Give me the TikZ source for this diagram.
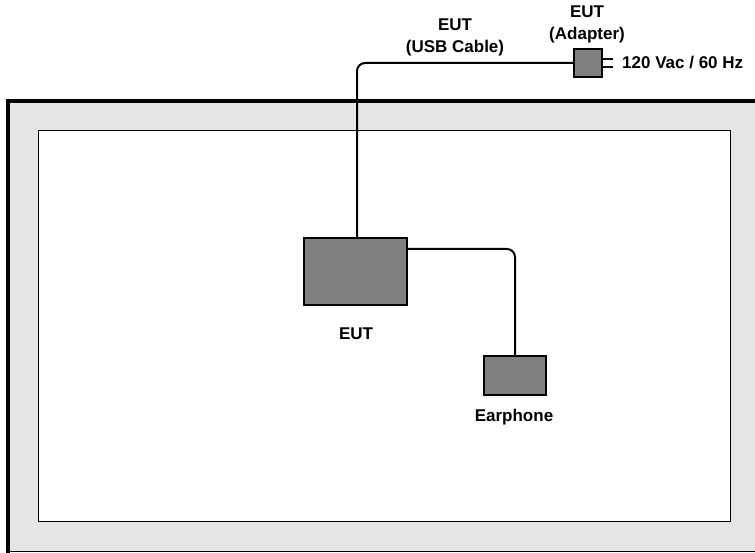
\documentclass[tikz,border=0pt]{standalone}
\usepackage{fontspec}
\setmainfont{Liberation Sans}
\begin{document}
\begin{tikzpicture}[x=1pt,y=-1pt,
  box/.style={draw=black,line width=2pt,fill=gray50,inner sep=0pt},
  cable/.style={draw=black,line width=2pt,rounded corners=8pt},
  lbl/.style={font=\fontsize{17}{22}\selectfont\bfseries,align=center,inner sep=0pt}]
\definecolor{gray50}{HTML}{808080}
\definecolor{roomgray}{HTML}{E5E5E5}
\useasboundingbox (0,0) rectangle (755,553);
% room
\fill[roomgray] (8,101) rectangle (790,551);
\draw[line width=1pt] (8,551) -- (790,551);
\draw[line width=4pt] (8,553) -- (8,101) -- (790,101);
\filldraw[fill=white,draw=black,line width=1pt] (38,131) rectangle (730,521);
% equipment
\node[box,minimum width=103pt,minimum height=67pt] (eut) at (355.5,271.5) {};
\node[box,minimum width=62pt,minimum height=39pt] (ear) at (515,375.5) {};
\node[box,minimum width=28pt,minimum height=28pt] (adp) at (588,63) {};
\coordinate (usbtop) at (357,65);
\draw[cable] (usbtop |- eut.north) |- (adp.west);
\draw[cable] ([yshift=22.5pt]eut.east) -| (ear.north);
\draw[line width=2pt] ([yshift=-4pt]adp.east) -- ++(10,0);
\draw[line width=2pt] ([yshift=4pt]adp.east) -- ++(10,0);
% labels
\node[lbl] (leut) at (356,334) {EUT};
\node[lbl] (lear) at (514,417) {Earphone};
\node[lbl] (lusb) at (455,37) {EUT\\(USB Cable)};
\node[lbl] (ladp) at (587,24) {EUT\\(Adapter)};
\node[lbl,anchor=west] (lpow) at (622,63) {120 Vac / 60 Hz};
\end{tikzpicture}
\end{document}
